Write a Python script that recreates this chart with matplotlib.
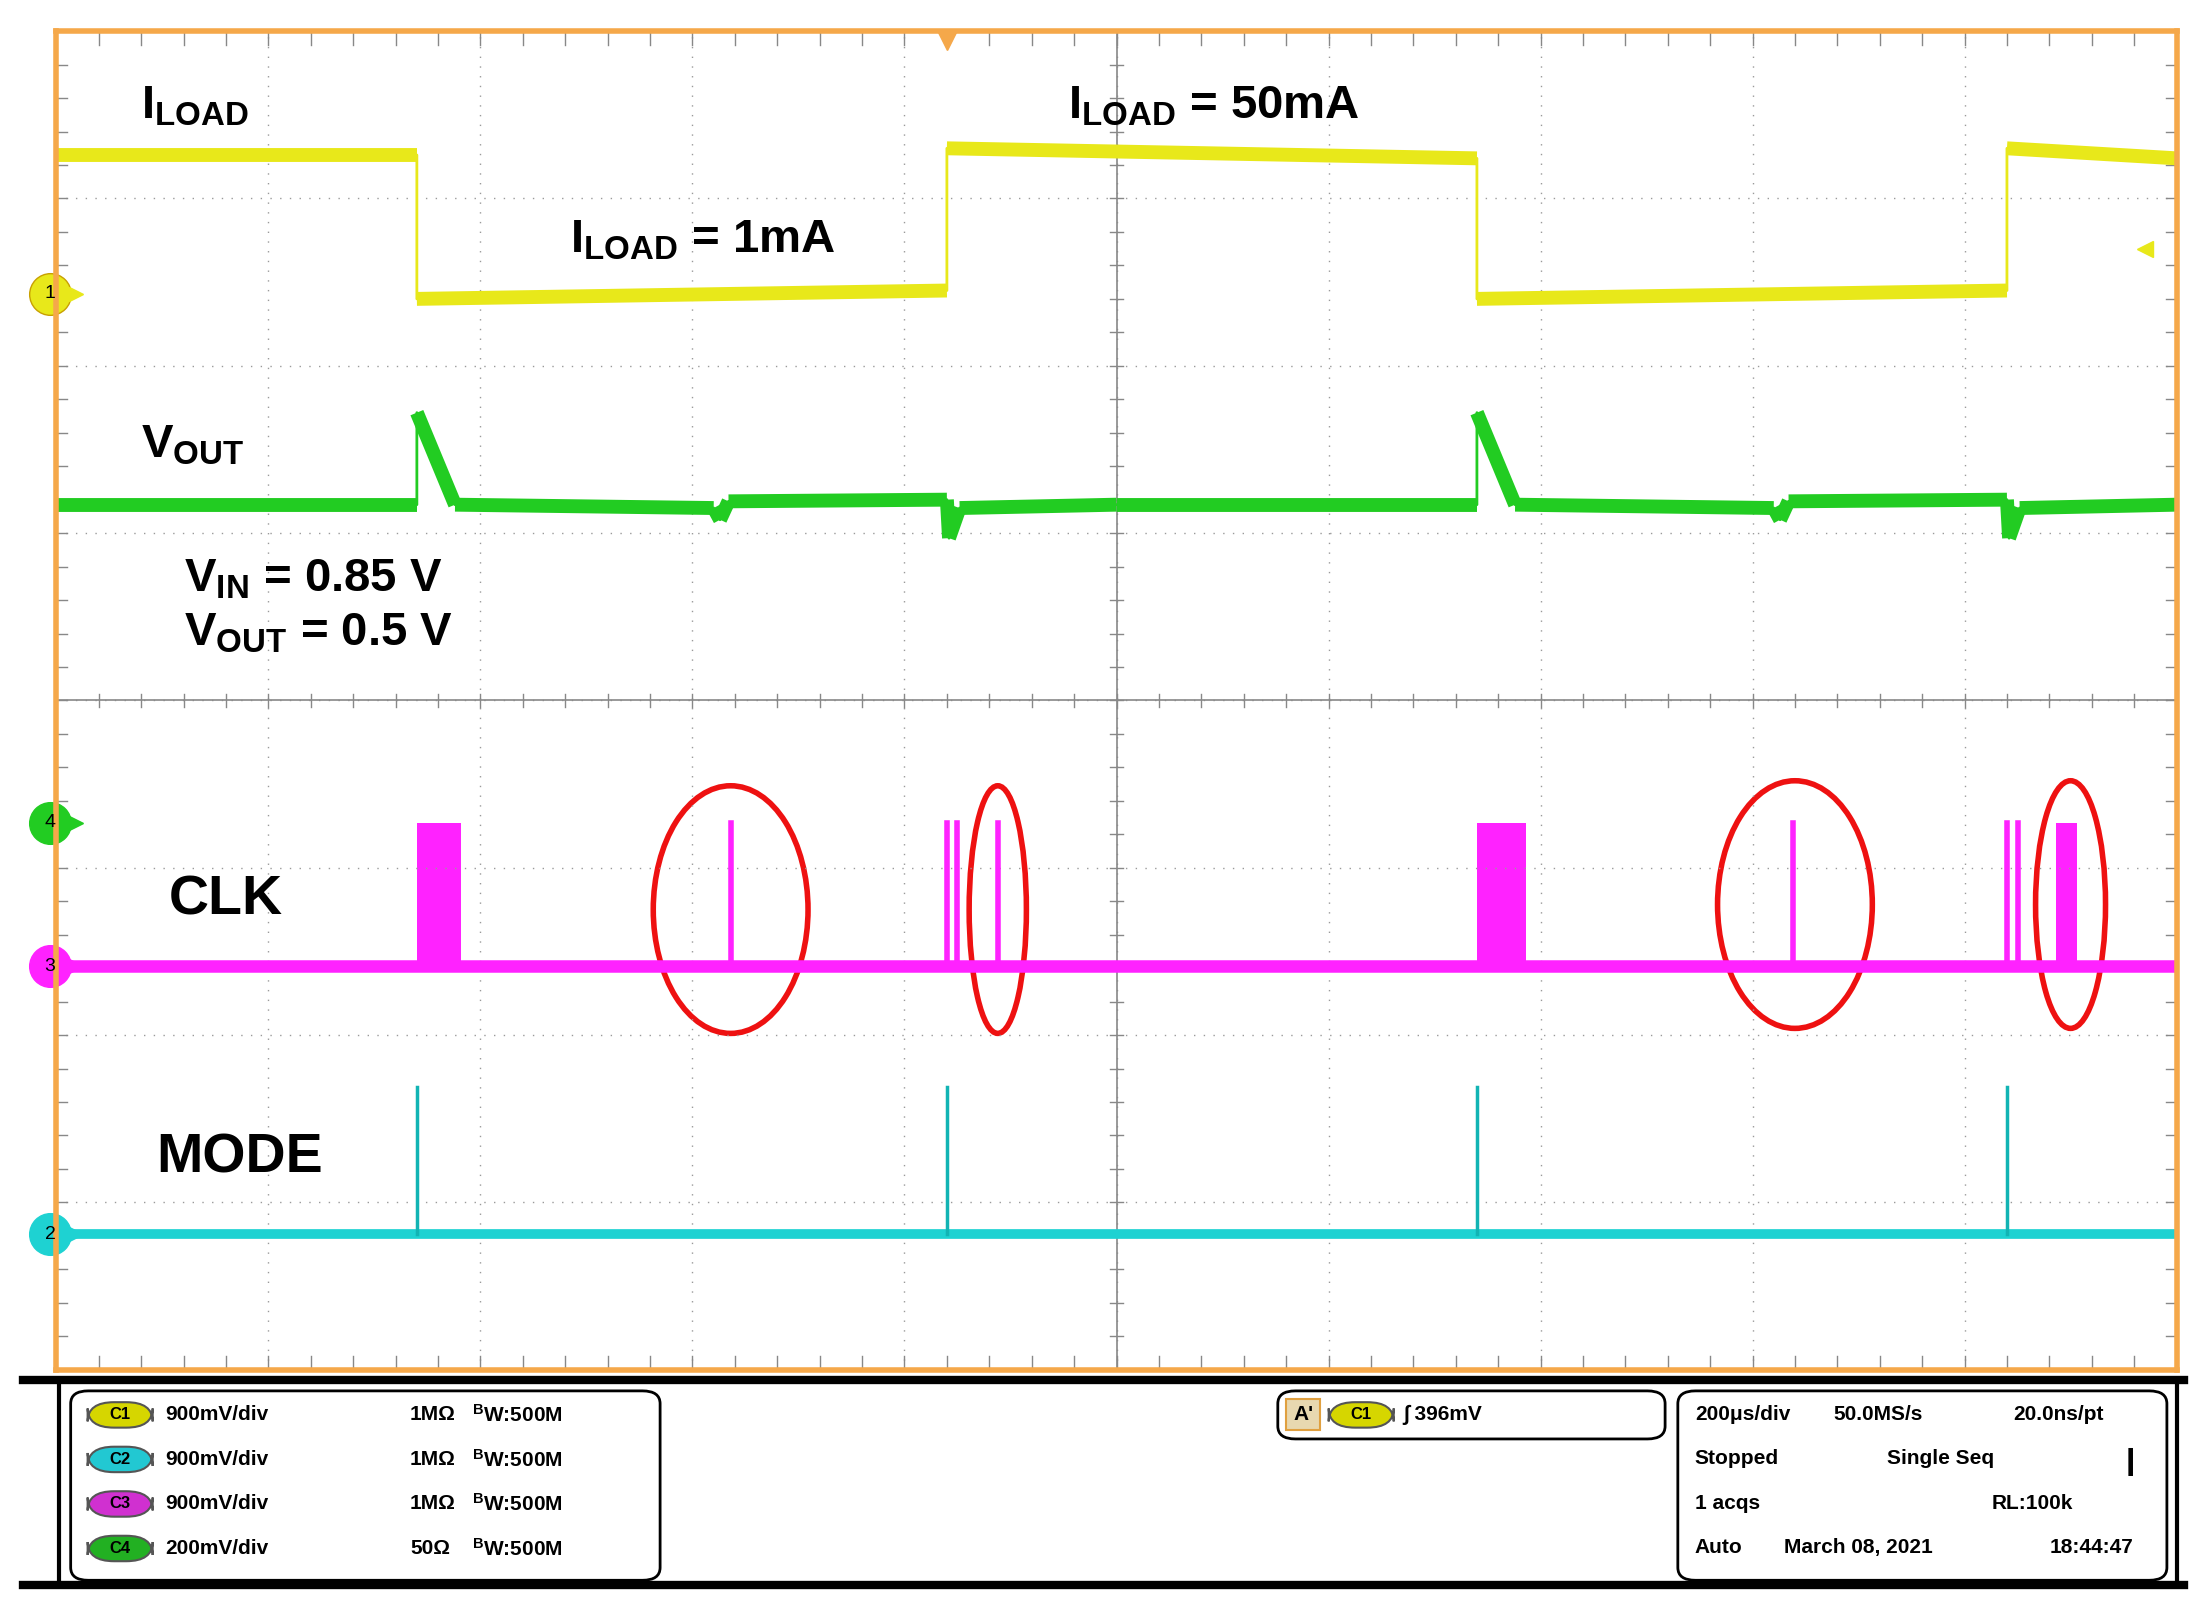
import matplotlib.pyplot as plt
from matplotlib.patches import Ellipse, FancyBboxPatch
import numpy as np

plt.rcParams['font.family'] = ['Liberation Sans', 'DejaVu Sans']
plt.rcParams['mathtext.default'] = 'regular'

# waveform breakpoints, in scope divisions (x: 0..10, y: 0..8)
ch1_x = [0, 1.70, 1.70, 4.20, 4.20, 6.70, 6.70, 9.20, 9.20, 10]
ch1_y = [7.26, 7.26, 6.40, 6.45, 7.30, 7.24, 6.40, 6.45, 7.30, 7.24]

ch4_x = [0, 1.70, 1.70, 1.88, 3.10, 3.13, 3.17, 4.20, 4.21, 4.26, 5.0,
         6.70, 6.70, 6.88, 8.10, 8.13, 8.17, 9.20, 9.21, 9.26, 10]
ch4_y = [5.17, 5.17, 5.72, 5.17, 5.15, 5.08, 5.19, 5.20, 4.97, 5.15, 5.17,
         5.17, 5.72, 5.17, 5.15, 5.08, 5.19, 5.20, 4.97, 5.15, 5.17]

clk_base = 2.41
clk_blocks = [(1.70, 1.91), (6.70, 6.93), (9.43, 9.53)]
clk_spikes = [3.18, 4.20, 4.25, 4.44, 8.19, 9.20, 9.25]
clk_high = 3.27

mode_base = 0.81
mode_spikes = [1.70, 4.20, 6.70, 9.20]
mode_high = 1.69

circles = [(3.18, 2.75, 0.73, 1.48), (4.44, 2.75, 0.27, 1.48),
           (8.20, 2.78, 0.73, 1.48), (9.50, 2.78, 0.33, 1.48)]

fig = plt.figure(figsize=(22.05, 15.99), dpi=100)
ax = fig.add_axes([0.0256, 0.1434, 0.9615, 0.8371])
ax.set_xlim(0, 10)
ax.set_ylim(0, 8)
ax.set_xticks([])
ax.set_yticks([])
for s in ax.spines.values():
    s.set_color('#f5a84a')
    s.set_linewidth(4)

# graticule
for i in range(1, 10):
    ax.axvline(i, color='#9a9a9a', lw=1, ls=(0, (1, 6)))
for j in range(1, 8):
    ax.axhline(j, color='#9a9a9a', lw=1, ls=(0, (1, 6)))
ax.axvline(5, color='#888888', lw=1.2)
ax.axhline(4, color='#888888', lw=1.2)
for t in np.arange(0, 10.01, 0.2):
    ax.plot([t, t], [0, 0.08], color='#888888', lw=1)
    ax.plot([t, t], [8, 7.92], color='#888888', lw=1)
    ax.plot([t, t], [3.96, 4.04], color='#888888', lw=1)
for t in np.arange(0, 8.01, 0.2):
    ax.plot([0, 0.05], [t, t], color='#888888', lw=1)
    ax.plot([10, 9.95], [t, t], color='#888888', lw=1)
    ax.plot([4.97, 5.03], [t, t], color='#888888', lw=1)


def trace(xs, ys, color, width):
    # thin everywhere, thick band only where time advances
    ax.plot(xs, ys, color=color, lw=2)
    for i in range(len(xs) - 1):
        if xs[i] != xs[i + 1]:
            ax.plot(xs[i:i + 2], ys[i:i + 2], color=color, lw=width,
                    solid_capstyle='butt')


trace(ch1_x, ch1_y, '#e8e81a', 10)
trace(ch4_x, ch4_y, '#22cc22', 10)

ax.plot([0, 10], [clk_base, clk_base], color='#ff22ff', lw=9)
for a, b in clk_blocks:
    ax.fill_between([a, b], clk_base, clk_high, color='#ff22ff', lw=0)
for s in clk_spikes:
    ax.plot([s, s], [clk_base, clk_high], color='#ff22ff', lw=4)

ax.plot([0, 10], [mode_base, mode_base], color='#1ed2d2', lw=7)
for s in mode_spikes:
    ax.plot([s, s], [mode_base, mode_high], color='#12b4b4', lw=2.5)

for cx, cy, w, h in circles:
    ax.add_patch(Ellipse((cx, cy), w, h, fill=False, ec='#ee1111', lw=4))

# channel markers
for y, txt, c in [(6.43, '1', '#e8e81a'), (3.27, '4', '#22cc22'),
                  (2.41, '3', '#ff22ff'), (0.81, '2', '#1ed2d2')]:
    ax.plot(-0.03, y, 'o', ms=30, color=c, mec='#c8a000' if txt == '1' else c,
            clip_on=False)
    ax.text(-0.03, y, txt, ha='center', va='center', fontsize=14, clip_on=False)
    ax.plot(0.09, y, '>', ms=10, color=c, clip_on=False)
ax.plot(4.2, 7.95, 'v', ms=14, color='#f5a84a')
ax.plot(9.85, 6.7, '<', ms=12, color='#e8e81a')

lbl = dict(fontsize=34, fontweight='bold', color='black')
ax.text(0.40, 7.48, r'I$_{LOAD}$', **lbl)
ax.text(2.42, 6.68, r'I$_{LOAD}$ = 1mA', **lbl)
ax.text(4.77, 7.48, r'I$_{LOAD}$ = 50mA', **lbl)
ax.text(0.40, 5.45, r'V$_{OUT}$', **lbl)
ax.text(0.60, 4.65, r'V$_{IN}$ = 0.85 V', **lbl)
ax.text(0.60, 4.33, r'V$_{OUT}$ = 0.5 V', **lbl)
ax.text(0.53, 2.72, 'CLK', fontsize=40, fontweight='bold')
ax.text(0.47, 1.18, 'MODE', fontsize=40, fontweight='bold')

# bottom status panel
W, H = 2205, 1599
def fx(px): return px * 1.4135 / W
def fy(py): return 1 - py * 1.4135 / H

fig.add_artist(plt.Line2D([fx(16), fx(1545)], [fy(976), fy(976)], color='black', lw=6))
fig.add_artist(plt.Line2D([fx(16), fx(1545)], [fy(1121), fy(1121)], color='black', lw=6))
fig.add_artist(plt.Line2D([fx(42), fx(42)], [fy(976), fy(1121)], color='black', lw=3))
fig.add_artist(plt.Line2D([fx(1540), fx(1540)], [fy(976), fy(1121)], color='black', lw=3))
for x0, y0, x1, y1 in [(50, 984, 467, 1118), (904, 984, 1178, 1018), (1187, 984, 1533, 1118)]:
    fig.add_artist(FancyBboxPatch((fx(x0), fy(y1)), fx(x1) - fx(x0), fy(y0) - fy(y1),
                                  boxstyle='round,pad=0,rounding_size=0.008',
                                  fc='white', ec='black', lw=2))

ptxt = dict(fontsize=15, fontweight='bold', va='center')
chan_rows = [('C1', '#d6d600', '900mV/div', '1M\u03a9'),
             ('C2', '#22c8d2', '900mV/div', '1M\u03a9'),
             ('C3', '#d030d0', '900mV/div', '1M\u03a9'),
             ('C4', '#22b022', '200mV/div', '50\u03a9')]
for i, (name, col, scale, imp) in enumerate(chan_rows):
    yy = 1001 + 31.5 * i
    fig.add_artist(FancyBboxPatch((fx(62), fy(yy + 9)), fx(46), fy(0) - fy(18),
                                  boxstyle='round,pad=0,rounding_size=0.012',
                                  fc=col, ec='#555555', lw=1.5))
    fig.text(fx(85), fy(yy), name, ha='center', fontsize=12, va='center', fontweight='bold')
    fig.text(fx(117), fy(yy), scale, **ptxt)
    fig.text(fx(290), fy(yy), imp, **ptxt)
    fig.text(fx(334), fy(yy), r'$^{B}$W:500M', **ptxt)

fig.add_artist(FancyBboxPatch((fx(910), fy(1012)), fx(24), fy(0) - fy(22),
                              boxstyle='square,pad=0', fc='#e8d8b0', ec='#e0a040', lw=1.5))
fig.text(fx(922), fy(1001), "A'", ha='center', **ptxt)
fig.add_artist(FancyBboxPatch((fx(940), fy(1010)), fx(46), fy(0) - fy(18),
                              boxstyle='round,pad=0,rounding_size=0.012',
                              fc='#d6d600', ec='#555555', lw=1.5))
fig.text(fx(963), fy(1001), 'C1', ha='center', fontsize=12, va='center', fontweight='bold')
fig.text(fx(993), fy(1001), '\u222b 396mV', **ptxt)

right_rows = [(1199, 1001, '200\u03bcs/div'), (1297, 1001, '50.0MS/s'), (1424, 1001, '20.0ns/pt'),
              (1199, 1032, 'Stopped'), (1335, 1032, 'Single Seq'),
              (1199, 1064, '1 acqs'), (1409, 1064, 'RL:100k'),
              (1199, 1095, 'Auto'), (1262, 1095, 'March 08, 2021'), (1450, 1095, '18:44:47')]
for x, y, t in right_rows:
    fig.text(fx(x), fy(y), t, **ptxt)
fig.text(fx(1507), fy(1034), '\u2759', fontsize=20, ha='center', va='center')

fig.savefig('out.png', dpi=100, facecolor='white')
